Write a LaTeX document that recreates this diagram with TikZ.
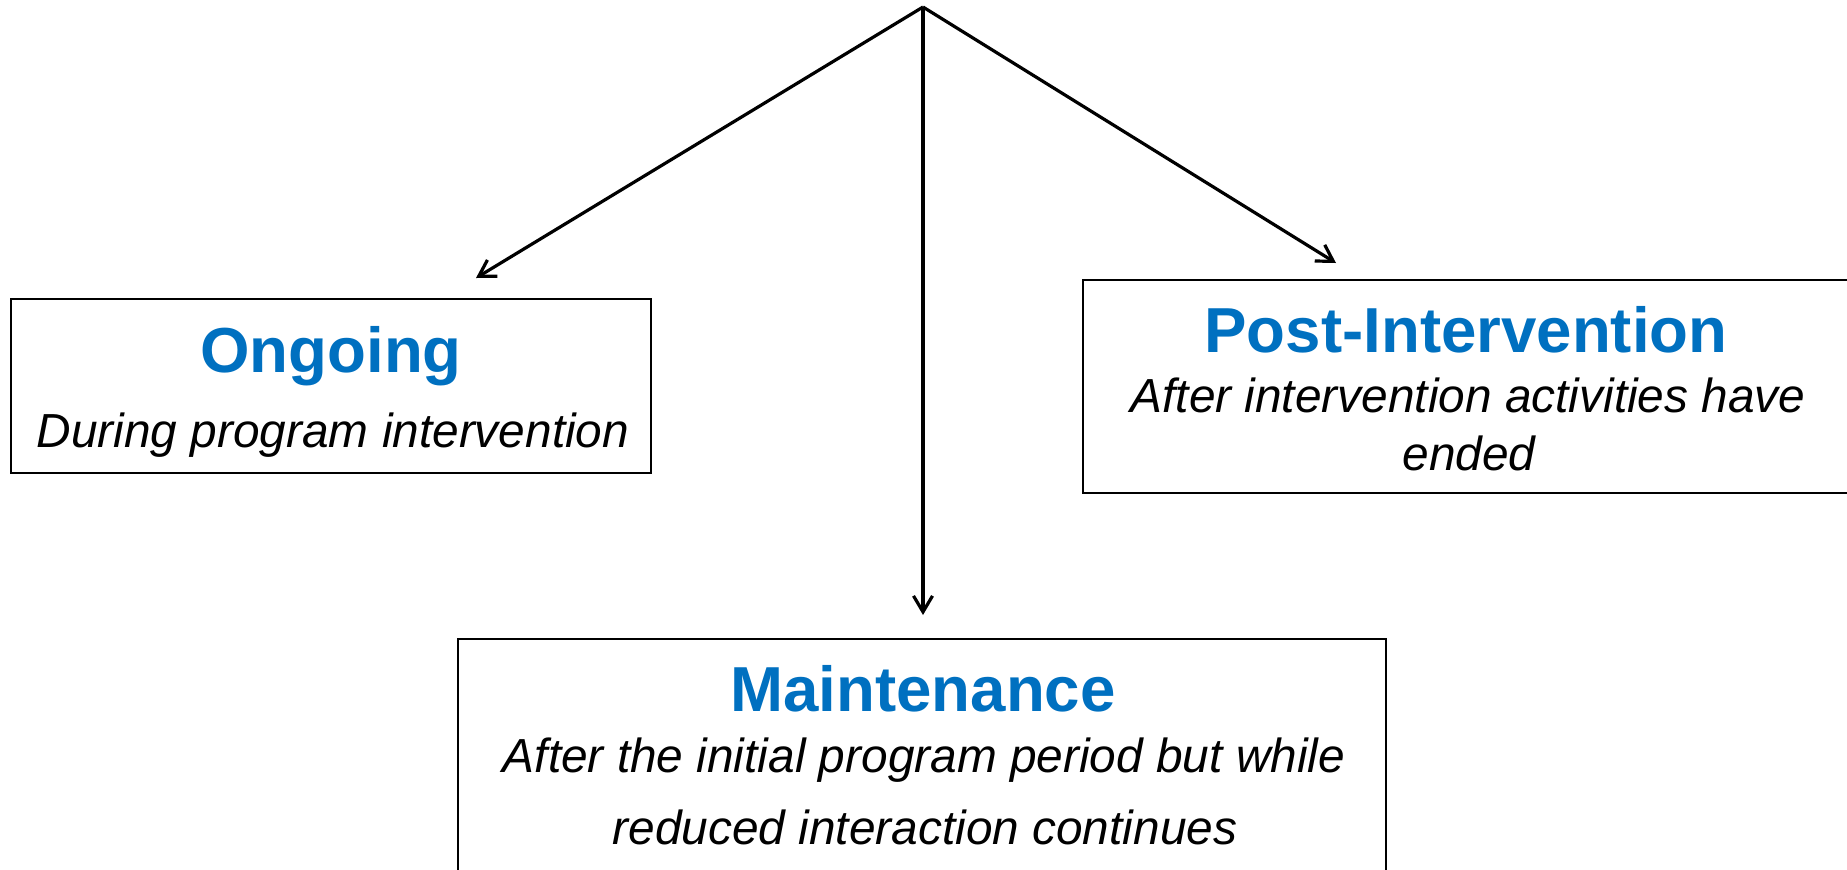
\documentclass[tikz,border=0pt]{standalone}
\usepackage{fontspec}
\setmainfont{Liberation Sans}
\usetikzlibrary{arrows.meta}
\definecolor{phaseblue}{RGB}{0,112,192}

\begin{document}
\begin{tikzpicture}[x=0.5pt, y=-0.5pt,
    box/.style={draw, line width=1pt, rectangle, inner sep=0pt, outer sep=0pt},
    title/.style={anchor=base, inner sep=0pt, text=phaseblue, font=\fontsize{31.8}{38}\selectfont\bfseries},
    desc/.style={anchor=base, inner sep=0pt, font=\fontsize{23.9}{29}\selectfont\itshape},
    arr/.style={-{Straight Barb[length=8pt, width=9.5pt]}, line width=1.6pt}]
    \useasboundingbox (0,0) rectangle (1847,869);

    % the three boxes
    \node[box, minimum width=320pt, minimum height=87pt] (ongoing) at (330.5,386) {};
    \node[box, minimum width=384.4pt, minimum height=106.4pt] (post) at (1467,386.3) {};
    \node[box, minimum width=463.8pt, minimum height=130.5pt] (maint) at (922.2,769.5) {};

    \node[title] (ongoing title) at (331,372) {Ongoing};
    \node[desc] (ongoing text) at (333,447) {During program intervention};

    \node[title] (post title) at (1466,352) {Post-Intervention};
    \node[desc] (post text1) at (1468,412.5) {After intervention activities have};
    \node[desc] (post text2) at (1469,470) {ended};

    \node[title] (maint title) at (923,711) {Maintenance};
    \node[desc] (maint text1) at (924,772) {After the initial program period but while};
    \node[desc] (maint text2) at (925,844) {reduced interaction continues};

    % arrows from the top point
    \coordinate (apex) at (923,7);
    \coordinate (ongoing tip) at (476,278);
    \coordinate (maint tip) at (923,615);
    \coordinate (post tip) at (1336,263);
    \foreach \tip in {ongoing tip, maint tip, post tip}{
        \draw[arr] (apex) -- (\tip);
    }
\end{tikzpicture}
\end{document}
